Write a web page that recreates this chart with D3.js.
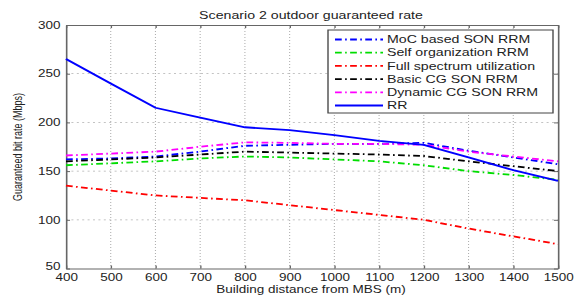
<!DOCTYPE html>
<html>
<head>
<meta charset="utf-8">
<script src="https://cdn.jsdelivr.net/npm/d3@7"></script>
<style>
  html, body { margin: 0; padding: 0; background: #fff; overflow: hidden; }
  svg { display: block; }
  text { font-family: "Liberation Sans", Arial, sans-serif; fill: #222; }
</style>
</head>
<body>
<div id="chart"></div>
<script>
// dados
const distancias = [400, 500, 600, 700, 800, 900, 1000, 1100, 1200, 1300, 1400, 1500];
const mocSon     = [162, 163, 165, 170, 176, 177, 178, 178, 179, 171, 164, 157];
const selfOrg    = [156, 158, 160, 163, 165, 164, 162, 160, 156, 150, 146, 141];
const fullSpec   = [135, 130, 125, 122.5, 120, 115, 110, 105, 100, 91, 83, 75];
const basicCg    = [160, 162, 164, 167, 170, 169, 168, 167, 165.5, 160, 155, 150];
const dynamicCg  = [166, 168, 170, 175, 179.5, 179, 178, 178, 177, 170, 165, 160];
const rr         = [265, 240, 215, 205, 195, 192, 187, 181, 177, 164, 151, 140];

const nomesSeries = ["MoC based SON RRM", "Self organization RRM", "Full spectrum utilization",
                     "Basic CG SON RRM", "Dynamic CG SON RRM", "RR"];
const coresSeries = ["#0000ff", "#00dd00", "#ff0000", "#000000", "#ff00ff", "#0000ff"];
const valoresSeries = [mocSon, selfOrg, fullSpec, basicCg, dynamicCg, rr];
const xTicks = [400, 500, 600, 700, 800, 900, 1000, 1100, 1200, 1300, 1400, 1500];
const yTicks = [50, 100, 150, 200, 250, 300];

// a imagem original está esticada na horizontal
const esticar = 1.35;
const larguraTela = 578, alturaTela = 295;
const largura = larguraTela / esticar;

const esq = 66 / esticar, dir = 558 / esticar, topo = 25, base = 268.5;

const svg = d3.select("#chart").append("svg")
    .attr("width", larguraTela).attr("height", alturaTela)
    .attr("viewBox", `0 0 ${largura} ${alturaTela}`)
    .attr("preserveAspectRatio", "none");

const x = d3.scaleLinear().domain([400, 1500]).range([esq, dir]);
const y = d3.scaleLinear().domain([50, 300]).range([base, topo]);

// grade pontilhada
const grade = svg.append("g");
grade.selectAll(".gx").data(xTicks.slice(1, -1)).enter().append("line")
    .attr("x1", d => x(d)).attr("x2", d => x(d))
    .attr("y1", topo).attr("y2", base)
    .attr("stroke", "#b0b0b0").attr("stroke-width", 0.8).attr("stroke-dasharray", "1,2");
grade.selectAll(".gy").data(yTicks.slice(1, -1)).enter().append("line")
    .attr("x1", esq).attr("x2", dir)
    .attr("y1", d => y(d)).attr("y2", d => y(d))
    .attr("stroke", "#b0b0b0").attr("stroke-width", 0.8).attr("stroke-dasharray", "1.5,2.5");

// eixos estilo matlab (ticks para dentro)
const eixoX = svg.append("g").attr("transform", `translate(0,${base})`)
    .call(d3.axisBottom(x).tickValues(xTicks).tickSizeInner(-3).tickSizeOuter(0).tickPadding(5).tickFormat(d3.format("d")));
const eixoY = svg.append("g").attr("transform", `translate(${esq},0)`)
    .call(d3.axisLeft(y).tickValues(yTicks).tickSizeInner(-3).tickSizeOuter(0).tickPadding(4));
svg.append("g").attr("transform", `translate(0,${topo})`)
    .call(d3.axisTop(x).tickValues(xTicks).tickSizeInner(-3).tickSizeOuter(0).tickFormat(""));
svg.append("g").attr("transform", `translate(${dir},0)`)
    .call(d3.axisRight(y).tickValues(yTicks).tickSizeInner(-3).tickSizeOuter(0).tickFormat(""));

svg.selectAll(".domain").attr("stroke", "#666").attr("stroke-width", 1.2);
svg.selectAll(".tick line").attr("stroke", "#666");
svg.selectAll(".tick text").style("font-size", "10px").attr("fill", "#222");
// o "50" sobe um pouco para não encostar no "400"
eixoY.selectAll(".tick text").filter(d => d === 50).attr("dy", "0.1em");

// linhas
const linha = d3.line().x((d, i) => x(distancias[i])).y(d => y(d));
const tracoPonto = "5,2.5,1.2,2.5";

valoresSeries.forEach((vals, k) => {
    svg.append("path")
        .datum(vals)
        .attr("d", linha)
        .attr("fill", "none")
        .attr("stroke", coresSeries[k])
        .attr("stroke-width", 1.8)
        .attr("stroke-dasharray", k === 5 ? null : tracoPonto);
});

// legenda
const legX0 = 328 / esticar, legX1 = 553 / esticar, legY0 = 30, legY1 = 113;
const legenda = svg.append("g");
legenda.append("rect")
    .attr("x", legX0).attr("y", legY0)
    .attr("width", legX1 - legX0).attr("height", legY1 - legY0)
    .attr("fill", "#fff").attr("stroke", "#444").attr("stroke-width", 1);
nomesSeries.forEach((nome, k) => {
    const yy = 39.5 + k * 13.2;
    legenda.append("line")
        .attr("x1", 335 / esticar).attr("x2", 383 / esticar)
        .attr("y1", yy).attr("y2", yy)
        .attr("stroke", coresSeries[k]).attr("stroke-width", 1.8)
        .attr("stroke-dasharray", k === 5 ? null : tracoPonto);
    legenda.append("text")
        .attr("x", 387 / esticar).attr("y", yy + 3.7)
        .style("font-size", "10.5px")
        .text(nome);
});

// títulos
svg.append("text")
    .attr("x", 311 / esticar).attr("y", 19)
    .attr("text-anchor", "middle").style("font-size", "10.5px")
    .text("Scenario 2 outdoor guaranteed rate");
svg.append("text")
    .attr("x", 311 / esticar).attr("y", 293)
    .attr("text-anchor", "middle").style("font-size", "10px")
    .text("Building distance from MBS (m)");
svg.append("text")
    .attr("transform", `translate(${22 / esticar},147) rotate(-90)`)
    .attr("text-anchor", "middle").style("font-size", "9px")
    .text("Guaranteed bit rate (Mbps)");
</script>
</body>
</html>
